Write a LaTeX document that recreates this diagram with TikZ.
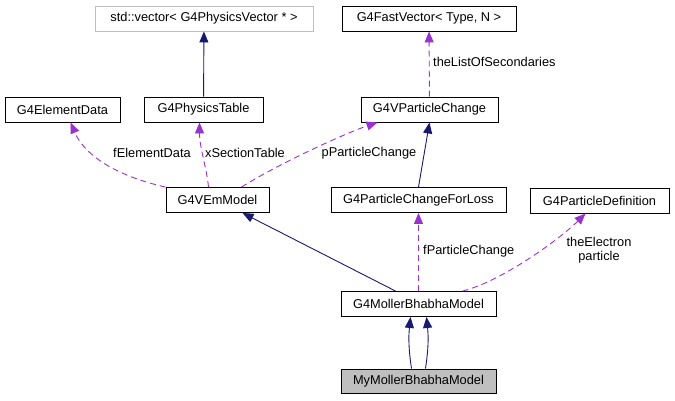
\documentclass[tikz,border=0pt]{standalone}
\usepackage{fontspec}
\setmainfont{Liberation Sans}
\usetikzlibrary{arrows.meta}
\definecolor{edgenavy}{HTML}{191970}
\definecolor{edgepurple}{HTML}{9A32CD}
\definecolor{boxgray}{HTML}{BFBFBF}

\begin{document}
\begin{tikzpicture}[x=1pt,y=-1pt,
    cls/.style={draw=black,line width=0.9pt,minimum height=25pt,inner sep=0pt,
      font=\fontsize{12.8}{15}\selectfont},
    inh/.style={draw=edgenavy,line width=0.9pt,-{Triangle[length=11pt,width=9pt]}},
    assoc/.style={draw=edgepurple,line width=0.9pt,dash pattern=on 6pt off 4pt,
      -{Triangle[length=11pt,width=9pt]}},
    lbl/.style={font=\fontsize{12.8}{14}\selectfont,inner sep=0pt,align=center}]
  \useasboundingbox (0,0) rectangle (675,400);
  \node[cls,draw=boxgray,minimum width=218pt] (vec) at (204,18.5) {std::vector< G4PhysicsVector * >};
  \node[cls,minimum width=174pt] (fastvec) at (429,18.5) {G4FastVector< Type, N >};
  \node[cls,minimum width=115pt] (eldata) at (62.5,109.5) {G4ElementData};
  \node[cls,minimum width=119pt] (phystab) at (203.5,109.5) {G4PhysicsTable};
  \node[cls,minimum width=137pt] (vpc) at (429.5,109.5) {G4VParticleChange};
  \node[cls,minimum width=103pt] (vem) at (217.5,200) {G4VEmModel};
  \node[cls,minimum width=175pt] (pcfl) at (418.5,200) {G4ParticleChangeForLoss};
  \node[cls,minimum width=139pt] (pdef) at (599.5,200.5) {G4ParticleDefinition};
  \node[cls,minimum width=155pt] (moller) at (418.5,304) {G4MollerBhabhaModel};
  \node[cls,fill=boxgray,minimum width=155pt,minimum height=24pt] (my) at (418.5,381) {MyMollerBhabhaModel};

  \draw[inh] (phystab) -- (vec);
  \draw[inh] (pcfl.north) -- (vpc.south);
  \draw[inh] ([xshift=-23pt]moller.north) -- ([xshift=25pt]vem.south);
  \draw[inh] ([xshift=-7pt]my.north) .. controls +(-3,-20) and +(-2,20) .. ([xshift=-8pt]moller.south);
  \draw[inh] ([xshift=7pt]my.north) .. controls +(3,-20) and +(2,20) .. ([xshift=8pt]moller.south);

  \draw[assoc] (vem.north west) .. controls +(-45,-10) and +(15,35) .. ([xshift=8pt]eldata.south);
  \draw[assoc] ([xshift=-9pt]vem.north) .. controls +(-2,-20) and +(0,25) .. ([xshift=-4pt]phystab.south);
  \draw[assoc] ([xshift=24pt]vem.north) .. controls +(40,-25) and +(-30,10) .. ([xshift=-52pt]vpc.south);
  \draw[assoc] (vpc) -- (fastvec);
  \draw[assoc] (moller) -- (pcfl);
  \draw[assoc] ([xshift=44pt]moller.north) .. controls +(40,-10) and +(-25,25) .. ([xshift=-14pt]pdef.south);

  \node[lbl] (lElementData) at (152,153) {fElementData};
  \node[lbl] (lSectionTable) at (245,153) {xSectionTable};
  \node[lbl] (lParticleChange) at (369,153) {pParticleChange};
  \node[lbl,anchor=west] (lSecondaries) at (433,62) {theListOfSecondaries};
  \node[lbl,anchor=west] (lChangeForLoss) at (423,251) {fParticleChange};
  \node[lbl] (lElectron) at (599,250) {theElectron\\particle};
\end{tikzpicture}
\end{document}
